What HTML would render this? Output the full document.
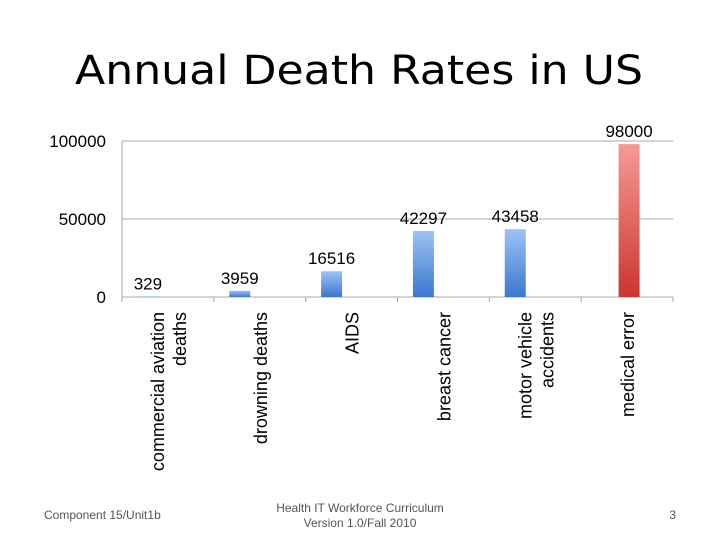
<!DOCTYPE html>
<html><head><meta charset="utf-8"><style>
body{margin:0;background:#fff;font-family:"Liberation Sans",sans-serif;}
svg{display:block}
</style></head><body>
<svg width="720" height="540">
<defs>
<linearGradient id="gb" x1="0" y1="0" x2="0" y2="1"><stop offset="0" stop-color="#9cc3f5"/><stop offset="1" stop-color="#3a78d0"/></linearGradient>
<linearGradient id="gr" x1="0" y1="0" x2="0" y2="1"><stop offset="0" stop-color="#f59a96"/><stop offset="1" stop-color="#cc3530"/></linearGradient>
</defs>
<text x="359" y="84" text-anchor="middle" font-size="40" font-family="DejaVu Sans, sans-serif" textLength="568" lengthAdjust="spacingAndGlyphs" fill="#000">Annual Death Rates in US</text>
<g id="chart"></g>
<text x="44" y="519" font-size="12" fill="#555">Component 15/Unit1b</text>
<text x="360" y="512" text-anchor="middle" font-size="12" fill="#555">Health IT Workforce Curriculum</text>
<text x="360" y="527" text-anchor="middle" font-size="12" fill="#555">Version 1.0/Fall 2010</text>
<text x="676" y="519" text-anchor="end" font-size="12" fill="#555">3</text>
</svg>
<script>
const categories=[["commercial aviation","deaths"],["drowning deaths"],["AIDS"],["breast cancer"],["motor vehicle","accidents"],["medical error"]];
const blueValues=[329,3959,16516,42297,43458,null];
const redValues=[null,null,null,null,null,98000];
const yTicks=[0,50000,100000];
const NS="http://www.w3.org/2000/svg";
const g=document.getElementById('chart');
const x0=122,x1=673,y0=297,y1=141,yMax=100000;
const band=(x1-x0)/categories.length;
const xc=i=>x0+band*(i+0.5);
const y=v=>y0-(v/yMax)*(y0-y1);
function mk(t,a,p){const e=document.createElementNS(NS,t);for(const k in a)e.setAttribute(k,a[k]);(p||g).appendChild(e);return e;}
yTicks.forEach(t=>{
 const l=mk('line',{x1:x0,x2:x1,y1:y(t),y2:y(t),stroke:'#aaa','stroke-width':1});
 
 
 const tx=mk('text',{x:106,y:y(t)+6,'text-anchor':'end','font-size':17,fill:'#000'});
 tx.textContent=t;
 
 
});
const ax=mk('line',{x1:x0,x2:x0,y1:y1,y2:y0+2,stroke:'#aaa'});


for(let i=0;i<=categories.length;i++){
 const tk=mk('line',{x1:x0+band*i,x2:x0+band*i,y1:y0,y2:y0+5,stroke:'#aaa'});
 
 
}
function bars(vals,off,fill,name){
 vals.forEach((v,i)=>{
  if(v==null)return;
  const cx=xc(i)+off;
  const r=mk('rect',{x:cx-10.5,y:y(v),width:21,height:y0-y(v),fill:fill});
  
  
  const t=mk('text',{x:cx,y:y(v)-7,'text-anchor':'middle','font-size':17,fill:'#000'});
  t.textContent=v;
  
  
 });
}
bars(blueValues,-20,'url(#gb)','blue');
bars(redValues,2,'url(#gr)','red');
categories.forEach((lines,i)=>{
 const n=lines.length;
 lines.forEach((s,j)=>{
  const xx=xc(i)+7+(j-(n-1)/2)*22;
  const t=mk('text',{x:xx,y:312,'text-anchor':'end','font-size':18,fill:'#000',transform:`rotate(-90 ${xx} 312)`});
  t.textContent=s;
  
  
 });
});
</script>
</body></html>
